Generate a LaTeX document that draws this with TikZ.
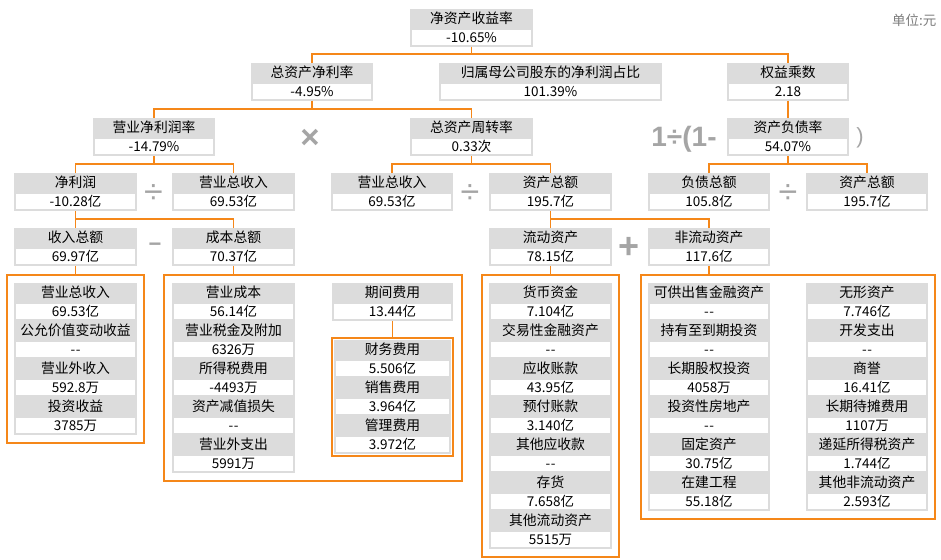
\documentclass[tikz,border=0pt]{standalone}
\usepackage{fontspec}
\setmainfont{Noto Sans CJK SC}
\newfontfamily\opfont{Liberation Sans}
\usepackage{tikz}
\usetikzlibrary{positioning, fit}
\definecolor{headFill}{RGB}{220, 220, 220}
\definecolor{lineColor}{RGB}{245, 135, 25}
\definecolor{opColor}{RGB}{165, 165, 165}
\definecolor{unitColor}{RGB}{125, 125, 125}

% 指标框: 名称, x, 顶端 y, 宽度, 标题, 数值
\newcommand{\kbox}[6]{%
  \node[khead, minimum width=#4] (#1) at ({#2},{#3}) {#5};
  \node[kval, minimum width=#4-2, below=0pt of #1] (#1-v) {#6};
}
\newcommand{\kdash}{-\kern0.5pt-}

\begin{document}
\begin{tikzpicture}[x=1pt, y=-1pt,
    khead/.style={anchor=north, fill=headFill, minimum height=19, inner sep=0pt, outer sep=0pt,
      font=\fontsize{13.8}{15}\selectfont, text height=12pt, text depth=1.7pt},
    kval/.style={fill=white, draw=headFill, line width=2pt, minimum height=17, inner sep=0pt,
      font=\fontsize{13.5}{15}\selectfont, text height=11.8pt, text depth=1.7pt},
    kline/.style={draw=lineColor, line width=1.5pt},
    kgroup/.style={draw=lineColor, line width=1.5pt, inner xsep=7pt, inner ysep=8pt},
    kop/.style={text=opColor, inner sep=0pt, font=\opfont\bfseries\fontsize{28}{28}\selectfont}]
    \path[fill=white] (0,0) rectangle (941,559);

    \node[anchor=east, text=unitColor, font=\fontsize{13.5}{15}\selectfont] (unit) at (940,20) {单位:元};

    % 第一、二层
    \kbox{roe}{471.5}{9}{123}{净资产收益率}{-10.65\%}
    \kbox{roa}{312}{63}{122}{总资产净利率}{-4.95\%}
    \kbox{gsmgs}{550.5}{63}{223}{归属母公司股东的净利润占比}{101.39\%}
    \kbox{qycs}{788}{63}{122}{权益乘数}{2.18}

    % 第三层
    \kbox{yyjll}{154}{118}{122}{营业净利润率}{-14.79\%}
    \kbox{zzczz}{471.5}{118}{123}{总资产周转率}{0.33次}
    \kbox{zcfzl}{788}{118}{122}{资产负债率}{54.07\%}

    % 第四层
    \kbox{jlr}{75.5}{173}{123}{净利润}{-10.28亿}
    \kbox{yyzsr}{233.5}{173}{123}{营业总收入}{69.53亿}
    \kbox{yyzsrb}{392}{173}{122}{营业总收入}{69.53亿}
    \kbox{zcze}{550.5}{173}{123}{资产总额}{195.7亿}
    \kbox{fzze}{709}{173}{122}{负债总额}{105.8亿}
    \kbox{zczeb}{867}{173}{122}{资产总额}{195.7亿}

    % 第五层
    \kbox{srze}{75.5}{228}{123}{收入总额}{69.97亿}
    \kbox{cbze}{233.5}{228}{123}{成本总额}{70.37亿}
    \kbox{ldzc}{550.5}{228}{123}{流动资产}{78.15亿}
    \kbox{fldzc}{709}{228}{122}{非流动资产}{117.6亿}

    % 明细
    \foreach \lab/\val [count=\i] in {营业总收入/69.53亿, 公允价值变动收益/\kdash, 营业外收入/592.8万, 投资收益/3785万}
      {\kbox{sr\i}{75.5}{283+38*(\i-1)}{123}{\lab}{\val}}
    \foreach \lab/\val [count=\i] in {营业成本/56.14亿, 营业税金及附加/6326万, 所得税费用/-4493万, 资产减值损失/\kdash, 营业外支出/5991万}
      {\kbox{cb\i}{233.5}{283+38*(\i-1)}{123}{\lab}{\val}}
    \kbox{qjfy}{392.5}{283}{121}{期间费用}{13.44亿}
    \foreach \lab/\val [count=\i] in {财务费用/5.506亿, 销售费用/3.964亿, 管理费用/3.972亿}
      {\kbox{qj\i}{392.5}{340+38*(\i-1)}{117}{\lab}{\val}}
    \foreach \lab/\val [count=\i] in {货币资金/7.104亿, 交易性金融资产/\kdash, 应收账款/43.95亿, 预付账款/3.140亿, 其他应收款/\kdash, 存货/7.658亿, 其他流动资产/5515万}
      {\kbox{ld\i}{550.5}{283+38*(\i-1)}{123}{\lab}{\val}}
    \foreach \lab/\val [count=\i] in {可供出售金融资产/\kdash, 持有至到期投资/\kdash, 长期股权投资/4058万, 投资性房地产/\kdash, 固定资产/30.75亿, 在建工程/55.18亿}
      {\kbox{fa\i}{709}{283+38*(\i-1)}{122}{\lab}{\val}}
    \foreach \lab/\val [count=\i] in {无形资产/7.746亿, 开发支出/\kdash, 商誉/16.41亿, 长期待摊费用/1107万, 递延所得税资产/1.744亿, 其他非流动资产/2.593亿}
      {\kbox{fb\i}{867}{283+38*(\i-1)}{122}{\lab}{\val}}

    \node[kgroup, fit=(sr1)(sr4-v)] (srgrp) {};
    \node[kgroup, inner sep=2pt, fit=(qj1)(qj3-v)] (qjgrp) {};
    \node[kgroup, inner sep=8pt, fit=(cb1)(cb5-v)(qjfy)(qjgrp)] (cbgrp) {};
    \node[kgroup, fit=(ld1)(ld7-v)] (ldgrp) {};
    \node[kgroup, fit=(fa1)(fb6-v)] (fldgrp) {};

    % 连线
    \draw[kline] (roe-v.south) -- ++(0,7) -| (roa.north);
    \draw[kline] (roe-v.south) -- ++(0,7) -| (qycs.north);
    \draw[kline] (roa-v.south) -- ++(0,8) -| (yyjll.north);
    \draw[kline] (roa-v.south) -- ++(0,8) -| (zzczz.north);
    \draw[kline] (qycs-v.south) -- (zcfzl.north);
    \draw[kline] (yyjll-v.south) -- ++(0,8) -| (jlr.north);
    \draw[kline] (yyjll-v.south) -- ++(0,8) -| (yyzsr.north);
    \draw[kline] (zzczz-v.south) -- ++(0,8) -| (yyzsrb.north);
    \draw[kline] (zzczz-v.south) -- ++(0,8) -| (zcze.north);
    \draw[kline] (zcfzl-v.south) -- ++(0,8) -| (fzze.north);
    \draw[kline] (zcfzl-v.south) -- ++(0,8) -| (zczeb.north);
    \draw[kline] (jlr-v.south) -- ++(0,8) -| (srze.north);
    \draw[kline] (jlr-v.south) -- ++(0,8) -| (cbze.north);
    \draw[kline] (zcze-v.south) -- ++(0,8) -| (ldzc.north);
    \draw[kline] (zcze-v.south) -- ++(0,8) -| (fldzc.north);
    \draw[kline] (srze-v.south) -- (srze-v.south |- srgrp.north);
    \draw[kline] (cbze-v.south) -- (cbze-v.south |- cbgrp.north);
    \draw[kline] (qjfy-v.south) -- (qjgrp.north);
    \draw[kline] (ldzc-v.south) -- (ldzc-v.south |- ldgrp.north);
    \draw[kline] (fldzc-v.south) -- (fldzc-v.south |- fldgrp.north);

    % 运算符
    \node[kop, font=\opfont\bfseries\fontsize{33}{33}\selectfont] (mul) at (310,139) {×};
    \node[kop, font=\opfont\fontsize{34}{34}\selectfont] (diva) at (153.5,194) {÷};
    \node[kop, font=\opfont\fontsize{34}{34}\selectfont] (divb) at (470,194) {÷};
    \node[kop, font=\opfont\fontsize{34}{34}\selectfont] (divc) at (788,194) {÷};
    \node[kop, font=\opfont\bfseries\fontsize{22}{22}\selectfont] (minus) at (155,247.5) {−};
    \node[kop, font=\opfont\bfseries\fontsize{36}{36}\selectfont] (plus) at (629,248) {+};
    \node[kop] (onediv) at (684,139) {1÷(1-};
    \node[kop, font=\opfont\fontsize{22}{22}\selectfont] (rpar) at (860,138) {)};
\end{tikzpicture}
\end{document}
